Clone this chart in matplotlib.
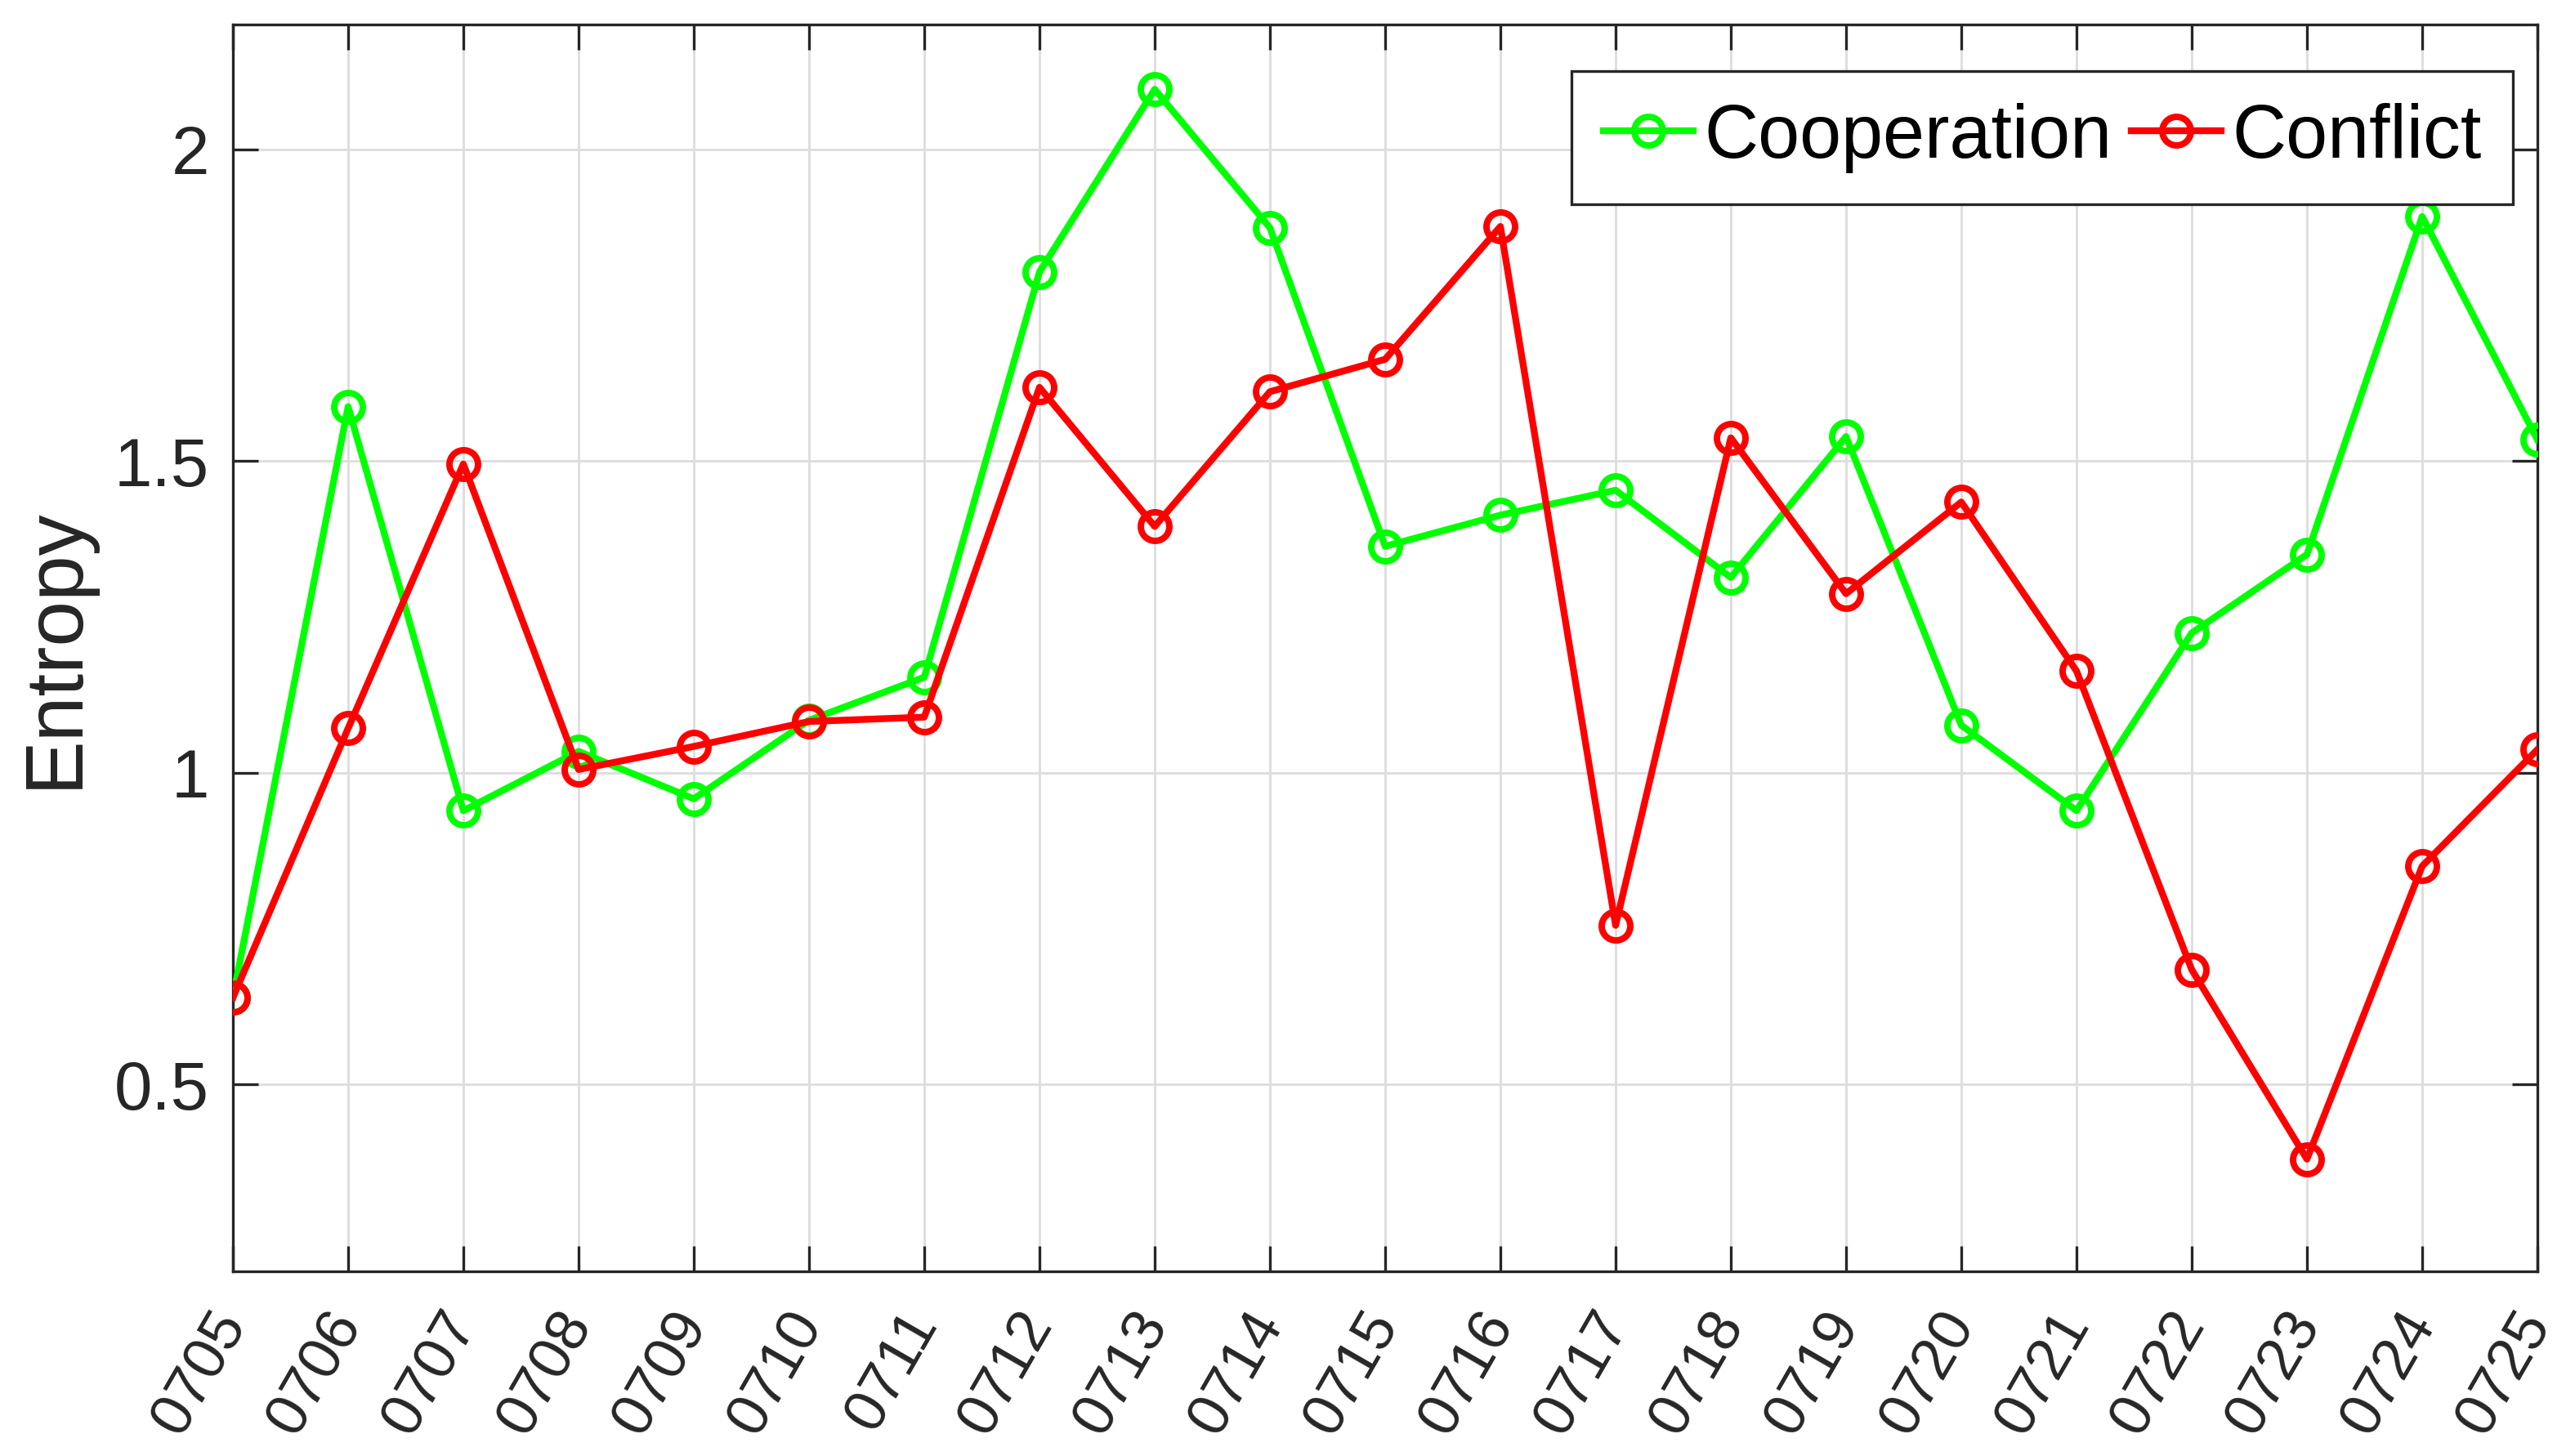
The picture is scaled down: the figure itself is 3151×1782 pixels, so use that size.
import matplotlib
matplotlib.use('Agg')
import matplotlib.pyplot as plt

# Data
days = ['0705', '0706', '0707', '0708', '0709', '0710', '0711', '0712', '0713',
        '0714', '0715', '0716', '0717', '0718', '0719', '0720', '0721', '0722',
        '0723', '0724', '0725']
cooperation = [0.639, 1.587, 0.939, 1.034, 0.958, 1.084, 1.153, 1.803, 2.096,
               1.874, 1.363, 1.413, 1.453, 1.313, 1.539, 1.076, 0.939, 1.224,
               1.350, 1.892, 1.534]
conflict = [0.639, 1.071, 1.495, 1.005, 1.042, 1.082, 1.089, 1.618, 1.395,
            1.611, 1.663, 1.876, 0.755, 1.537, 1.287, 1.434, 1.163, 0.684,
            0.380, 0.850, 1.037]

plt.rcParams['font.family'] = ['Liberation Sans', 'DejaVu Sans']

W, H = 3151, 1782
fig = plt.figure(figsize=(W / 300, H / 300), dpi=300)
# axes box in pixels: x 285..3105, y 30..1556
ax = fig.add_axes([285 / W, 1 - 1556 / H, (3105 - 285) / W, (1556 - 30) / H])

x = list(range(len(days)))
style = dict(lw=2.0, marker='o', ms=8.4, mfc='none', mew=1.9, zorder=3)
ax.plot(x, cooperation, color=(0, 1, 0), label='Cooperation', **style)
ax.plot(x, conflict, color=(1, 0, 0), label='Conflict', **style)

ax.set_xlim(0, len(days) - 1)
ax.set_ylim(0.2, 2.2)
ax.set_xticks(x)
ax.set_xticklabels(days, rotation=60, ha='right', va='center',
                   rotation_mode='anchor', fontsize=17.5)
ax.set_yticks([0.5, 1, 1.5, 2])
ax.set_yticklabels(['0.5', '1', '1.5', '2'], fontsize=20)

ax.grid(True, color='#dedede', lw=0.7)
ax.set_axisbelow(True)
ax.tick_params(direction='in', length=7.5, width=0.8, top=True, right=True,
               colors='#262626')
ax.tick_params(axis='y', pad=7)
ax.tick_params(axis='x', pad=13)
for s in ax.spines.values():
    s.set_color('#262626')
    s.set_linewidth(0.8)

ax.set_ylabel('Entropy', fontsize=24, color='#262626')
ax.yaxis.set_label_coords((115 - 285) / 2820, 0.5)

leg = ax.legend(loc='upper right', ncol=2, fancybox=False, framealpha=1,
                edgecolor='#262626', borderaxespad=0,
                bbox_to_anchor=((3075 - 285) / 2820, 1 - (87 - 30) / 1526),
                fontsize=22, handlelength=1.2, handletextpad=0.15,
                columnspacing=0.25, borderpad=0.42, labelcolor='black')
leg.get_frame().set_linewidth(0.8)

fig.savefig('out.png', dpi=300)
